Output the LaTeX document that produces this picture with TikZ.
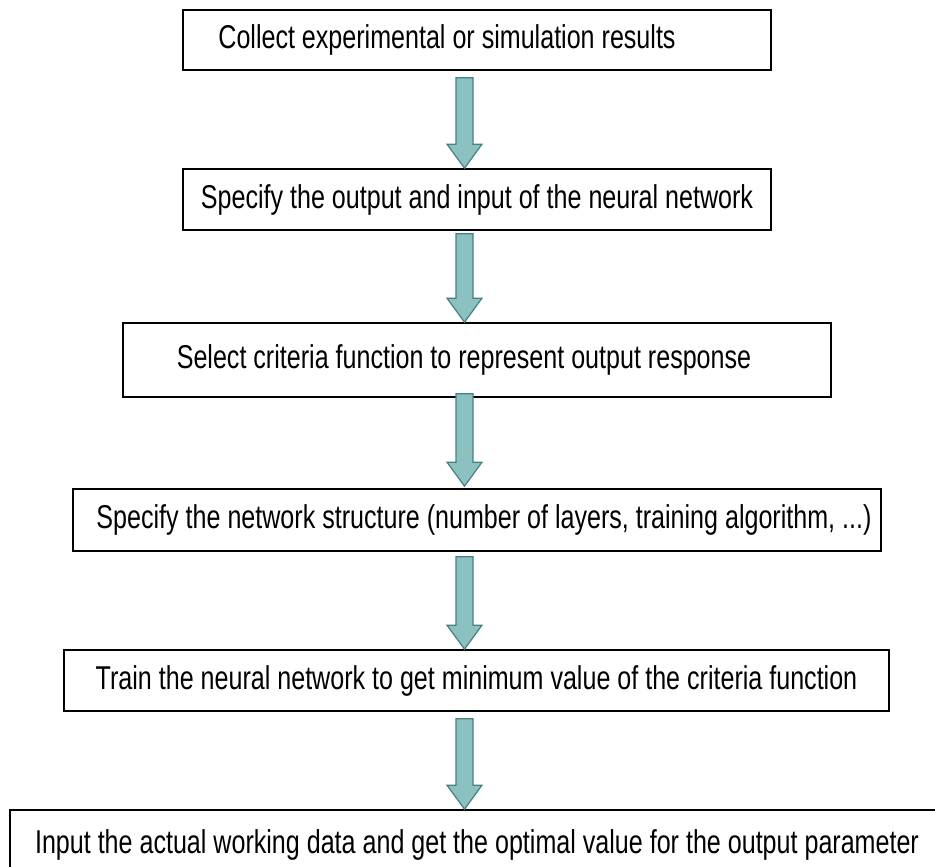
\documentclass[tikz,border=0pt]{standalone}
\usepackage{fontspec}
\setmainfont{Liberation Sans}[FakeStretch=0.76]
\usepackage{xcolor}
\usepackage{tikz}
\usetikzlibrary{calc}

\definecolor{arrowfill}{RGB}{139,193,192}
\definecolor{arrowline}{RGB}{72,128,128}
\newdimen\px \px=0.5pt

% block arrow from #1 down to #2
\newcommand{\flowarrow}[2]{%
  \filldraw[fill=arrowfill, draw=arrowline, line width=1.2\px, line join=miter]
    let \p1=(#1), \p2=(#2) in
    (\x1-8.5\px,\y1) -- (\x1+8.5\px,\y1) -- (\x1+8.5\px,\y2+24\px)
    -- (\x1+17.5\px,\y2+24\px) -- (\x1,\y2) -- (\x1-17.5\px,\y2+24\px)
    -- (\x1-8.5\px,\y2+24\px) -- cycle;}

\begin{document}
\begin{tikzpicture}[x=0.5pt, y=-0.5pt]
        \tikzset{stepbox/.style={draw=black, line width=1.6\px, fill=white, inner sep=0pt,
                font=\fontsize{16.5pt}{19pt}\selectfont}}
        \useasboundingbox (0,0) rectangle (935,866);
        \coordinate (axis) at (464.5,0);
        \node[stepbox, minimum width=588\px, minimum height=60\px] (collect) at (477,40)
            {Collect experimental or simulation results\hspace*{60\px}};
        \node[stepbox, minimum width=588\px, minimum height=61\px] (specify) at (477,199.5)
            {Specify the output and input of the neural network};
        \node[stepbox, minimum width=708\px, minimum height=74\px] (criteria) at (477,360)
            {Select criteria function to represent output response\hspace*{26\px}};
        \node[stepbox, minimum width=808\px, minimum height=62\px] (structure) at (477,520)
            {\hspace*{14\px}Specify the network structure (number of layers, training algorithm, ...)};
        \node[stepbox, minimum width=825\px, minimum height=61\px] (train) at (476.5,680.5)
            {Train the neural network to get minimum value of the criteria function};
        \node[stepbox, minimum width=934\px, minimum height=70\px] (apply) at (477,845)
            {Input the actual working data and get the optimal value for the output parameter};
        \flowarrow{$(collect.south -| axis)+(0,7)$}{specify.north -| axis}
        \flowarrow{$(specify.south -| axis)+(0,3)$}{criteria.north -| axis}
        \flowarrow{$(criteria.south -| axis)+(0,-4)$}{$(structure.north -| axis)+(0,-2)$}
        \flowarrow{$(structure.south -| axis)+(0,5)$}{train.north -| axis}
        \flowarrow{$(train.south -| axis)+(0,7)$}{apply.north -| axis}
    \end{tikzpicture}
\end{document}
